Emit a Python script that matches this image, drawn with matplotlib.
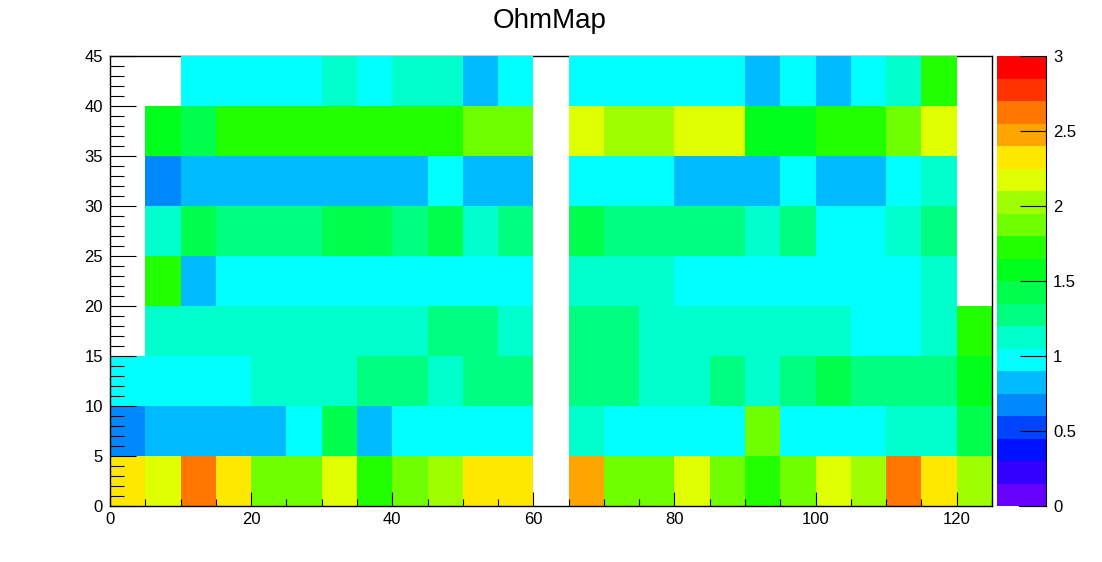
import numpy as np
import matplotlib
matplotlib.use("Agg")
import matplotlib.pyplot as plt
from matplotlib.colors import ListedColormap, BoundaryNorm

plt.rcParams['font.family'] = ['Liberation Sans', 'DejaVu Sans']

# histogram binning: 25 bins in x (0..125), 9 bins in y (0..45)
x_edges = np.arange(0, 126, 5)
y_edges = np.arange(0, 46, 5)

# cell contents, row by row from y=0 upwards (nan = empty bin)
n = np.nan
row_00 = [2.33, 2.18, 2.63, 2.33, 1.88, 1.88, 2.18, 1.73, 1.88, 2.03, 2.33, 2.33, n,
          2.48, 1.88, 1.88, 2.18, 1.88, 1.73, 1.88, 2.18, 2.03, 2.63, 2.33, 2.03]
row_05 = [0.68, 0.83, 0.83, 0.83, 0.83, 0.98, 1.43, 0.83, 0.98, 0.98, 0.98, 0.98, n,
          1.13, 0.98, 0.98, 0.98, 0.98, 1.88, 0.98, 0.98, 0.98, 1.13, 1.13, 1.43]
row_10 = [0.98, 0.98, 0.98, 0.98, 1.13, 1.13, 1.13, 1.28, 1.28, 1.13, 1.28, 1.28, n,
          1.28, 1.28, 1.13, 1.13, 1.28, 1.13, 1.28, 1.43, 1.28, 1.28, 1.28, 1.58]
row_15 = [n, 1.13, 1.13, 1.13, 1.13, 1.13, 1.13, 1.13, 1.13, 1.28, 1.28, 1.13, n,
          1.28, 1.28, 1.13, 1.13, 1.13, 1.13, 1.13, 1.13, 0.98, 0.98, 1.13, 1.73]
row_20 = [n, 1.73, 0.83, 0.98, 0.98, 0.98, 0.98, 0.98, 0.98, 0.98, 0.98, 0.98, n,
          1.13, 1.13, 1.13, 0.98, 0.98, 0.98, 0.98, 0.98, 0.98, 0.98, 1.13, n]
row_25 = [n, 1.13, 1.43, 1.28, 1.28, 1.28, 1.43, 1.43, 1.28, 1.43, 1.13, 1.28, n,
          1.43, 1.28, 1.28, 1.28, 1.28, 1.13, 1.28, 0.98, 0.98, 1.13, 1.28, n]
row_30 = [n, 0.68, 0.83, 0.83, 0.83, 0.83, 0.83, 0.83, 0.83, 0.98, 0.83, 0.83, n,
          0.98, 0.98, 0.98, 0.83, 0.83, 0.83, 0.98, 0.83, 0.83, 0.98, 1.13, n]
row_35 = [n, 1.58, 1.43, 1.73, 1.73, 1.73, 1.73, 1.73, 1.73, 1.73, 1.88, 1.88, n,
          2.18, 2.03, 2.03, 2.18, 2.18, 1.58, 1.58, 1.73, 1.73, 1.88, 2.18, n]
row_40 = [n, n, 0.98, 0.98, 0.98, 0.98, 1.13, 0.98, 1.13, 1.13, 0.83, 0.98, n,
          0.98, 0.98, 0.98, 0.98, 0.98, 0.83, 0.98, 0.83, 0.98, 1.13, 1.73, n]

values = np.array([row_00, row_05, row_10, row_15, row_20,
                   row_25, row_30, row_35, row_40])

# ROOT-like 20 level palette, 0 .. 3
palette = ['#6600ff', '#3300ff', '#0011ff', '#0044ff', '#0088ff',
           '#00bbff', '#00ffff', '#00ffcc', '#00ff80', '#00ff4c',
           '#00ff1a', '#22ff00', '#6fff00', '#9fff00', '#e0ff00',
           '#ffe800', '#ffa500', '#ff7700', '#ff3300', '#ff0000']
levels = np.linspace(0, 3, 21)
cmap = ListedColormap(palette)
norm = BoundaryNorm(levels, cmap.N)

W, H = 1102, 562
fig = plt.figure(figsize=(W / 100, H / 100), dpi=100)
ax = fig.add_axes([110 / W, 56 / H, 882 / W, 450 / H])
cax = fig.add_axes([997 / W, 56 / H, 49 / W, 450 / H])

ax.pcolormesh(x_edges, y_edges, np.ma.masked_invalid(values),
              cmap=cmap, norm=norm, zorder=1)
ax.set_xlim(0, 125)
ax.set_ylim(0, 45)
ax.spines['top'].set_zorder(0.5)
for s in ax.spines.values():
    s.set_linewidth(1.0)

ax.set_xticks(np.arange(0, 121, 20))
ax.set_xticks(np.arange(0, 126, 5), minor=True)
ax.set_yticks(np.arange(0, 46, 5))
ax.set_yticks(np.arange(0, 46, 1), minor=True)
ax.tick_params(axis='both', which='both', direction='in', width=0.8,
               top=False, right=False, labelsize=12)
ax.tick_params(axis='x', which='major', length=10, pad=4.5)
ax.tick_params(axis='x', which='minor', length=5)
ax.tick_params(axis='y', which='major', length=19, pad=5)
ax.tick_params(axis='y', which='minor', length=10)

# palette axis
cax.pcolormesh([0, 1], levels, levels[:-1, None], cmap=cmap, norm=norm)
cax.set_xlim(0, 1)
cax.set_ylim(0, 3)
cax.set_xticks([])
for side in ['top', 'left']:
    cax.spines[side].set_visible(False)
cax.spines['bottom'].set_bounds(0.45, 1)
cax.yaxis.tick_right()
cax.set_yticks(np.arange(0, 3.01, 0.5))
cax.set_yticklabels(['0', '0.5', '1', '1.5', '2', '2.5', '3'])
cax.tick_params(axis='y', direction='in', length=19, width=0.8,
                labelsize=12, pad=5)

fig.text(550 / W, 1 - 28 / H, 'OhmMap', ha='center', va='baseline',
         fontsize=20)

fig.savefig('out.png', dpi=100)
